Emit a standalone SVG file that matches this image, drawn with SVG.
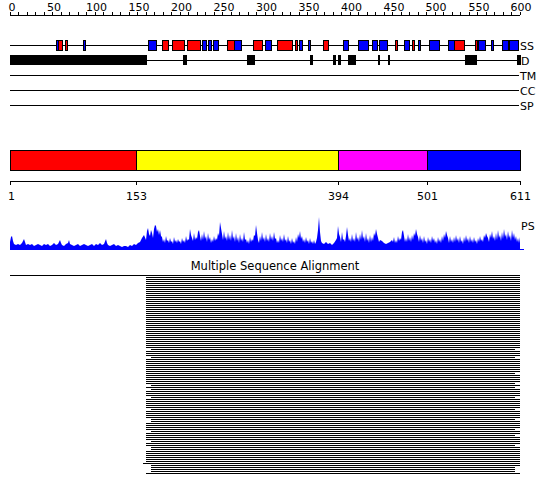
<svg xmlns="http://www.w3.org/2000/svg" width="550" height="495" viewBox="0 0 550 495">
<style>
text{font-family:"DejaVu Sans","Liberation Sans",sans-serif;font-size:11px;fill:#000}
.ln{stroke:#000;stroke-width:1;fill:none}
.r{fill:#ff0000;stroke:#000;stroke-width:1}
.b{fill:#0000ff;stroke:#000;stroke-width:1}
.k{fill:#000;stroke:#000;stroke-width:1}
.mid{text-anchor:middle}
</style>
<rect width="550" height="495" fill="#fff"/>
<g id="ruler">
<path class="ln" d="M10 15.5H520"/>
<path class="ln" d="M10.5 12V15M18.5 12V15M27.5 12V15M35.5 12V15M44.5 12V15M52.5 12V15M61.5 12V15M69.5 12V15M78.5 12V15M86.5 12V15M95.5 12V15M103.5 12V15M112.5 12V15M120.5 12V15M129.5 12V15M137.5 12V15M146.5 12V15M154.5 12V15M163.5 12V15M171.5 12V15M180.5 12V15M188.5 12V15M197.5 12V15M205.5 12V15M214.5 12V15M222.5 12V15M231.5 12V15M239.5 12V15M248.5 12V15M256.5 12V15M265.5 12V15M273.5 12V15M282.5 12V15M290.5 12V15M299.5 12V15M307.5 12V15M316.5 12V15M324.5 12V15M333.5 12V15M341.5 12V15M350.5 12V15M358.5 12V15M367.5 12V15M375.5 12V15M384.5 12V15M392.5 12V15M401.5 12V15M409.5 12V15M418.5 12V15M426.5 12V15M435.5 12V15M443.5 12V15M452.5 12V15M460.5 12V15M469.5 12V15M477.5 12V15M486.5 12V15M494.5 12V15M503.5 12V15M511.5 12V15M520.5 12V15"/>
<text class="mid" x="12" y="11">0</text>
<text class="mid" x="54" y="11">50</text>
<text class="mid" x="96.5" y="11">100</text>
<text class="mid" x="139" y="11">150</text>
<text class="mid" x="181.5" y="11">200</text>
<text class="mid" x="224" y="11">250</text>
<text class="mid" x="266.5" y="11">300</text>
<text class="mid" x="309" y="11">350</text>
<text class="mid" x="351.5" y="11">400</text>
<text class="mid" x="394" y="11">450</text>
<text class="mid" x="436" y="11">500</text>
<text class="mid" x="479" y="11">550</text>
<text class="mid" x="521" y="11">600</text>
</g>
<g id="tracks">
<path class="ln" d="M10 45.5H519M10 60.5H519M10 75.5H519M10 90.5H519M10 105.5H519"/>
<text x="520" y="50">SS</text>
<text x="521" y="65">D</text>
<text x="520" y="80">TM</text>
<text x="520" y="95">CC</text>
<text x="520" y="110">SP</text>
</g>
<g id="ss">
<rect class="b" x="56.5" y="40.5" width="2" height="10"/>
<rect class="r" x="58.5" y="40.5" width="4" height="10"/>
<rect class="r" x="65.5" y="40.5" width="2" height="10"/>
<rect class="b" x="83.5" y="40.5" width="2" height="10"/>
<rect class="b" x="148.5" y="40.5" width="8" height="10"/>
<rect class="r" x="162.5" y="40.5" width="6" height="10"/>
<rect class="r" x="172.5" y="40.5" width="12" height="10"/>
<rect class="r" x="187.5" y="40.5" width="13" height="10"/>
<rect class="b" x="202.5" y="40.5" width="4" height="10"/>
<rect class="b" x="208.5" y="40.5" width="3" height="10"/>
<rect class="b" x="213.5" y="40.5" width="5" height="10"/>
<rect class="r" x="227.5" y="40.5" width="7" height="10"/>
<rect class="b" x="234.5" y="40.5" width="7" height="10"/>
<rect class="r" x="253.5" y="40.5" width="9" height="10"/>
<rect class="b" x="265.5" y="40.5" width="6" height="10"/>
<rect class="r" x="277.5" y="40.5" width="15" height="10"/>
<rect class="r" x="295.5" y="40.5" width="2" height="10"/>
<rect class="b" x="299.5" y="40.5" width="3" height="10"/>
<rect class="b" x="308.5" y="40.5" width="2" height="10"/>
<rect class="r" x="323.5" y="40.5" width="5" height="10"/>
<rect class="b" x="343.5" y="40.5" width="5" height="10"/>
<rect class="b" x="358.5" y="40.5" width="10" height="10"/>
<rect class="b" x="372.5" y="40.5" width="5" height="10"/>
<rect class="b" x="379.5" y="40.5" width="8" height="10"/>
<rect class="r" x="395.5" y="40.5" width="2" height="10"/>
<rect class="b" x="404.5" y="40.5" width="5" height="10"/>
<rect class="r" x="412.5" y="40.5" width="2" height="10"/>
<rect class="b" x="418.5" y="40.5" width="2" height="10"/>
<rect class="b" x="429.5" y="40.5" width="10" height="10"/>
<rect class="b" x="448.5" y="40.5" width="6" height="10"/>
<rect class="r" x="454.5" y="40.5" width="10" height="10"/>
<rect class="r" x="475.5" y="40.5" width="2" height="10"/>
<rect class="b" x="478.5" y="40.5" width="7" height="10"/>
<rect class="b" x="491.5" y="40.5" width="2" height="10"/>
<rect class="b" x="502.5" y="40.5" width="6" height="10"/>
<rect class="b" x="509.5" y="40.5" width="9" height="10"/>
</g>
<g id="disorder">
<rect class="k" x="10.5" y="55.5" width="136" height="9"/>
<rect class="k" x="183.5" y="55.5" width="3" height="9"/>
<rect class="k" x="247.5" y="55.5" width="7" height="9"/>
<rect class="k" x="310.5" y="55.5" width="2" height="9"/>
<rect class="k" x="333.5" y="55.5" width="2" height="9"/>
<rect class="k" x="338.5" y="55.5" width="2" height="9"/>
<rect class="k" x="348.5" y="55.5" width="7" height="9"/>
<rect class="k" x="378.5" y="55.5" width="1" height="9"/>
<rect class="k" x="388.5" y="55.5" width="1" height="9"/>
<rect class="k" x="465.5" y="55.5" width="11" height="9"/>
<rect class="k" x="517.5" y="55.5" width="3" height="9"/>
</g>
<g id="domains">
<rect x="10.5" y="150.5" width="126" height="20" fill="#ff0000" stroke="#000"/>
<rect x="136.5" y="150.5" width="202" height="20" fill="#ffff00" stroke="#000"/>
<rect x="338.5" y="150.5" width="89" height="20" fill="#ff00ff" stroke="#000"/>
<rect x="427.5" y="150.5" width="93" height="20" fill="#0000ff" stroke="#000"/>
<path class="ln" d="M10 181.5H521M10.5 181V185M136.5 181V185M338.5 181V185M427.5 181V185M520.5 181V185"/>
<text class="mid" x="11.5" y="200">1</text>
<text class="mid" x="136.5" y="200">153</text>
<text class="mid" x="338.5" y="200">394</text>
<text class="mid" x="427.5" y="200">501</text>
<text class="mid" x="520.5" y="200">611</text>
</g>
<g id="ps">
<polygon fill="#0000ff" points="10,250 10,242 11,237 12,236 13,241 14,244 16,245 18,244 20,245 22,243 24,239 25,242 26,245 28,244 30,245 32,244 34,246 36,245 38,244 40,245 42,246 44,244 46,245 48,244 50,246 52,245 54,243 56,245 58,244 60,240 61,243 62,245 64,246 66,244 68,243 69,240 70,244 72,245 74,246 76,245 78,244 80,246 82,245 84,244 86,245 88,246 90,245 92,244 94,246 96,244 98,245 100,243 102,245 104,244 106,239 107,243 108,245 110,246 112,245 114,244 116,246 118,245 120,246 122,247 124,246 126,246 128,247 130,245 132,246 134,244 136,245 138,243 140,242 142,238 144,235 146,240 147,231 148,228 149,234 150,236 151,230 152,233 153,238 154,229 155,225 156,226 157,232 158,229 159,235 160,230 161,236 162,237 163,242 164,239 165,243 166,236 167,241 168,240 169,243 170,238 171,242 172,241 173,244 174,237 175,242 176,240 177,243 178,239 179,242 180,241 181,244 182,238 183,242 184,240 185,243 186,236 187,241 188,239 189,240 190,229 191,235 192,238 193,241 194,233 195,240 196,237 197,239 198,232 199,230 200,236 201,241 202,234 203,240 204,231 205,239 206,236 207,242 208,233 209,240 210,237 211,243 212,239 213,242 214,236 215,241 216,238 217,240 218,233 219,236 220,222 221,228 222,234 223,240 224,231 225,239 226,236 227,241 228,232 229,240 230,235 231,241 232,230 233,239 234,236 235,242 236,233 237,241 238,237 239,243 240,234 241,241 242,238 243,242 244,232 245,240 246,239 247,243 248,240 249,244 250,237 251,242 252,239 253,241 254,235 255,236 256,225 257,233 258,240 259,243 260,236 261,241 262,232 263,240 264,237 265,242 266,234 267,241 268,238 269,242 270,233 271,240 272,236 273,241 274,232 275,239 276,238 277,243 278,240 279,243 280,235 281,241 282,238 283,242 284,234 285,241 286,239 287,243 288,236 289,242 290,240 291,244 292,238 293,243 294,241 295,244 296,237 297,242 298,234 299,238 300,231 301,239 302,236 303,242 304,239 305,243 306,237 307,242 308,240 309,244 310,238 311,243 312,241 313,244 314,240 315,244 316,242 317,238 318,230 319,217 320,232 321,241 322,243 324,244 326,242 328,244 330,243 332,245 334,243 336,240 337,238 338,226 339,234 340,237 341,242 342,232 343,240 344,239 345,242 346,236 347,227 348,235 349,241 350,238 351,242 352,234 353,241 354,238 355,242 356,232 357,240 358,237 359,242 360,234 361,240 362,230 363,239 364,236 365,242 366,233 367,241 368,238 369,243 370,235 371,242 372,237 373,241 374,233 375,236 376,229 377,234 378,238 379,242 380,240 382,241 384,243 386,244 388,243 390,242 392,240 393,242 394,237 395,243 396,240 397,243 398,236 399,241 400,238 401,240 402,232 403,230 404,236 405,242 406,238 407,242 408,234 409,241 410,237 411,242 412,235 413,240 414,233 415,236 416,229 417,234 418,237 419,242 420,235 421,241 422,238 423,243 424,236 425,242 426,240 427,244 428,237 429,242 430,239 431,243 432,236 433,241 434,238 435,243 436,240 437,244 438,237 439,242 440,239 441,243 442,236 443,241 444,234 445,238 446,231 447,235 448,238 449,243 450,236 451,242 452,239 453,243 454,237 455,242 456,235 457,241 458,238 459,243 460,236 461,242 462,240 463,244 464,237 465,242 466,235 467,241 468,238 469,243 470,236 471,242 472,239 473,243 474,237 475,242 476,240 477,244 478,238 479,242 480,236 481,241 482,239 483,242 484,235 485,238 486,233 487,236 488,238 489,242 490,234 491,238 492,231 493,239 494,236 495,241 496,233 497,240 498,230 499,238 500,235 501,241 502,232 503,239 504,229 505,237 506,234 507,240 508,231 509,238 510,235 511,241 512,230 513,238 514,233 515,240 516,236 517,242 518,238 519,243 520,237 520,250"/>
<path d="M10 249.5H524" stroke="#0000ff" stroke-width="1"/>
<text x="521" y="230">PS</text>
</g>
<g id="msa">
<text class="mid" x="275" y="270" style="font-size:11.5px">Multiple Sequence Alignment</text>
<path class="ln" d="M10 275.5H520"/>
<path class="ln" d="M146 277.5H520M146 279.5H520M146 281.5H520M146 283.5H520M146 285.5H520M146 287.5H520M146 289.5H520M146 291.5H520M146 293.5H520M146 295.5H520M146 297.5H520M146 299.5H520M146 301.5H520M146 303.5H520M146 305.5H520M146 307.5H520M146 309.5H520M146 311.5H520M146 313.5H520M146 315.5H520M146 317.5H520M146 319.5H520M146 321.5H520M146 323.5H520M146 325.5H520M146 327.5H520M146 329.5H520M146 331.5H520M146 333.5H520M146 335.5H520M146 337.5H520M146 339.5H520M146 341.5H520M146 343.5H520M146 345.5H520M146 347.5H520M151 349.5H515M146 351.5H520M146 353.5H520M146 355.5H520M151 357.5H515M146 359.5H520M146 361.5H520M146 363.5H520M146 365.5H520M146 367.5H520M146 369.5H520M146 371.5H520M146 373.5H515M146 375.5H520M146 377.5H520M146 379.5H520M146 381.5H520M146 383.5H515M151 385.5H520M146 387.5H515M151 389.5H520M146 391.5H520M146 393.5H520M146 395.5H520M151 397.5H515M146 399.5H520M146 401.5H520M146 403.5H520M146 405.5H520M146 407.5H520M151 409.5H515M146 411.5H520M146 413.5H520M146 415.5H520M146 417.5H520M151 419.5H515M151 421.5H520M146 423.5H520M146 425.5H520M146 427.5H520M146 429.5H515M151 431.5H520M146 433.5H520M146 435.5H515M146 437.5H520M146 439.5H520M151 441.5H520M146 443.5H520M146 445.5H515M151 447.5H520M151 449.5H520M146 451.5H520M146 453.5H520M146 455.5H520M146 457.5H520M146 459.5H520M146 461.5H520M143 463.5H520M151 465.5H520M151 467.5H515M151 469.5H515M151 471.5H515M146 473.5H520"/>
</g>
</svg>
